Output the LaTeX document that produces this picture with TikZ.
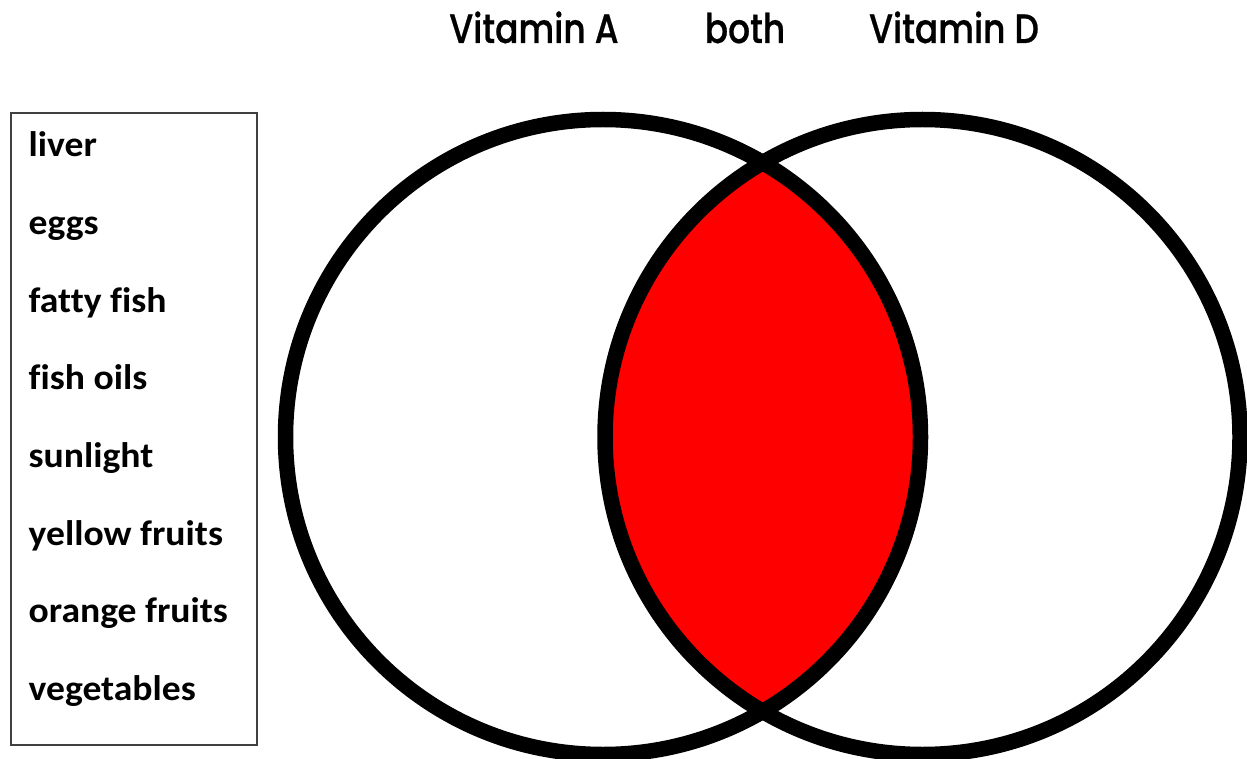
\documentclass[tikz,border=0pt]{standalone}
\usepackage{fontspec}
\newfontfamily\listfont{Carlito}[Ligatures=NoCommon, FakeStretch=1.06]
\newfontfamily\titlefont{Poppins Medium}[FakeStretch=0.84, FakeBold=0.6]
\tikzset{
  listitem/.style={anchor=base west, inner sep=0pt, font=\listfont\bfseries\fontsize{35.5}{40}\selectfont},
  title/.style={anchor=base, inner sep=0pt, font=\titlefont\fontsize{41}{46}\selectfont},
  ring/.style={line width=15.5pt, draw=black},
}
\begin{document}
\begin{tikzpicture}[x=1pt,y=-1pt]
\useasboundingbox (0,0) rectangle (1247,759);
\fill[white] (0,0) rectangle (1247,759);
% lens
\begin{scope}
  \clip (603,437) circle (317.5);
  \fill[red] (922.5,437) circle (317.5);
\end{scope}
\draw[ring] (603,437) circle (317.5);
\draw[ring] (922.5,437) circle (317.5);
% titles
\node[title] (ta) at (534,43) {Vitamin A};
\node[title] (tb) at (745,43) {both};
\node[title] (td) at (954,43) {Vitamin D};
% list box
\draw[line width=2pt, draw=black!75] (11,113) rectangle (257,745);
\node[listitem] (l1) at (28.5,157) {liver};
\node[listitem] (l2) at (28.5,234.6) {eggs};
\node[listitem] (l3) at (28.5,312.2) {fatty fish};
\node[listitem] (l4) at (28.5,389.8) {fish oils};
\node[listitem] (l5) at (28.5,467.4) {sunlight};
\node[listitem] (l6) at (28.5,545) {yellow fruits};
\node[listitem] (l7) at (28.5,622.6) {orange fruits};
\node[listitem] (l8) at (28.5,700.2) {vegetables};
\end{tikzpicture}
\end{document}
